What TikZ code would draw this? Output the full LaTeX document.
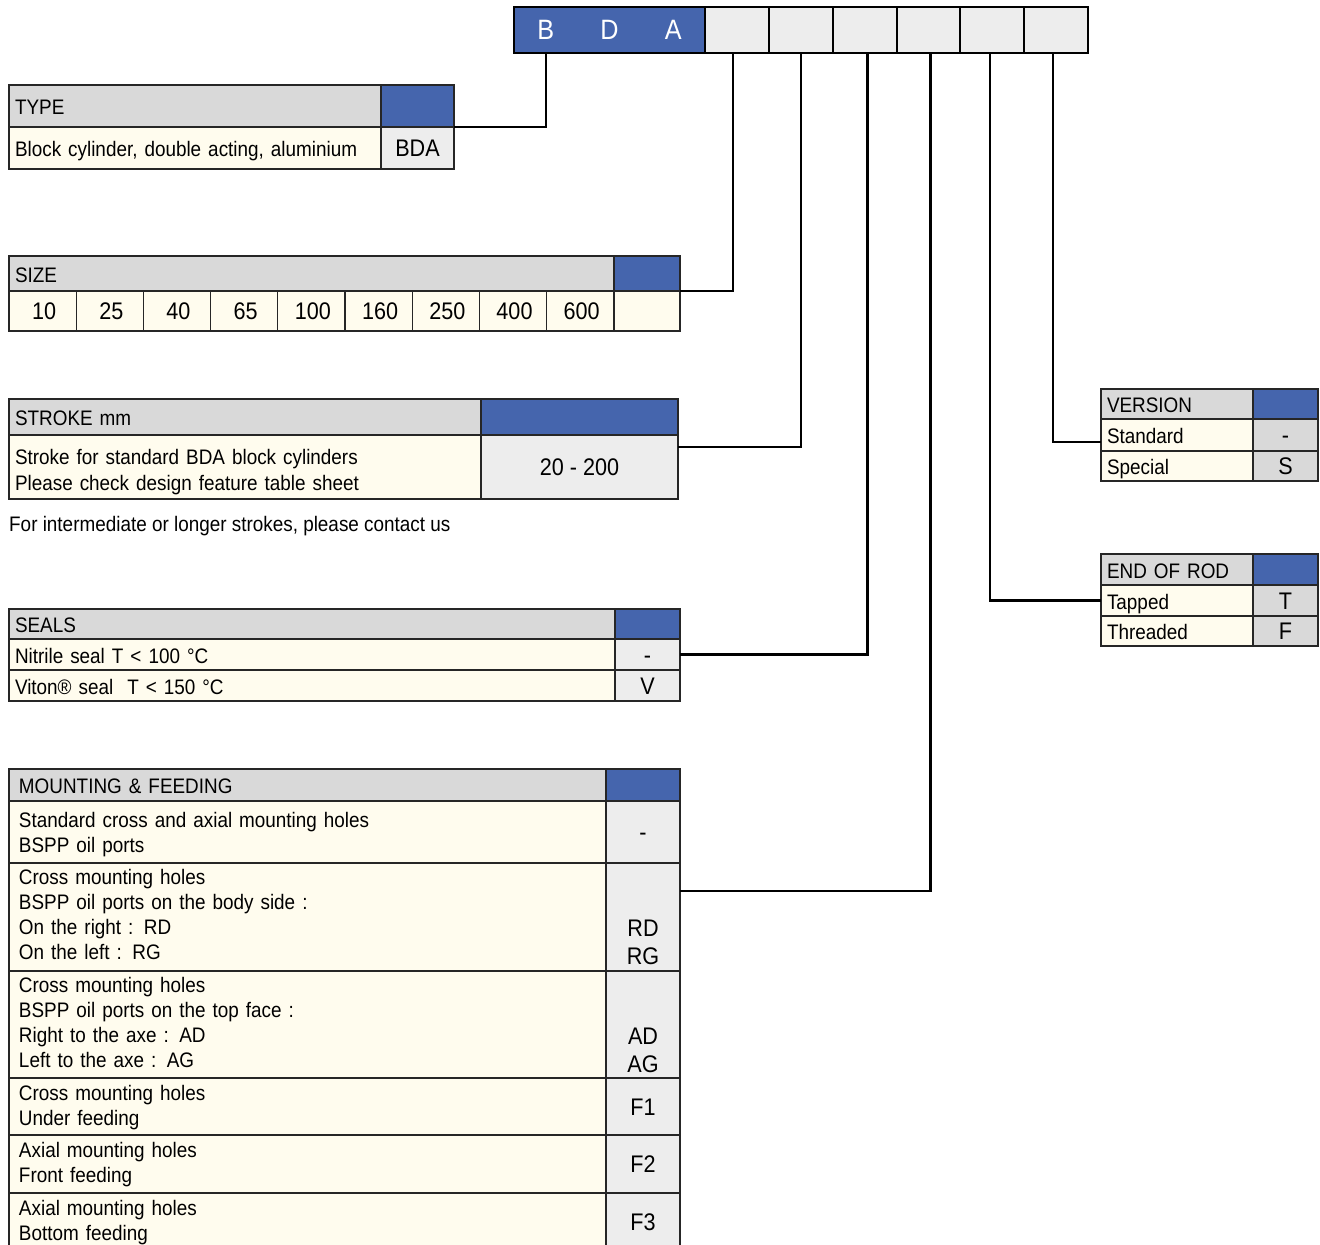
\documentclass[tikz,border=0pt]{standalone}
\usepackage{fontspec}
\setmainfont{Liberation Sans}[FakeStretch=0.9]
\usepackage{tikz}
\usetikzlibrary{positioning}

\definecolor{keyblue}{HTML}{4565AD}
\definecolor{hdrgrey}{HTML}{D9D9D9}
\definecolor{cream}{HTML}{FFFCEE}
\definecolor{codegrey}{HTML}{EDEDED}

\newcommand{\cellsize}{\fontsize{21}{25}\selectfont}
\newcommand{\codesize}{\fontsize{24}{28}\selectfont}
\newcommand{\barsize}{\fontsize{28}{32}\selectfont}

\tikzset{
  cell/.style={draw=black!85, line width=1.2pt, rectangle, inner sep=0pt, outer sep=0pt, anchor=north west, font=\cellsize},
  hdr/.style={cell, fill=hdrgrey, align=left, inner xsep=6pt, oneline},
  desc/.style={cell, fill=cream, align=left, inner xsep=6pt},
  key/.style={cell, fill=keyblue},
  code/.style={cell, fill=codegrey, font=\codesize, align=center},
  oneline/.style={text height=17pt, text depth=0pt},
  twoline/.style={text height=12pt, text depth=25pt},
  fourline/.style={text height=10pt, text depth=75pt},
  codepair/.style={text width=74pt, text height=11pt, text depth=84pt},
  num/.style={cell, fill=cream, font=\codesize, oneline, minimum width=67.2pt, minimum height=40pt},
  barbox/.style={rectangle, inner sep=0pt, outer sep=0pt, minimum height=46pt, anchor=north west, line width=2pt},
  link/.style={line width=2.4pt},
}

\begin{document}
\begin{tikzpicture}[x=1pt,y=-1pt]
\useasboundingbox (0,0) rectangle (1320,1245);
\clip (0,0) rectangle (1320,1245);

% code bar
\node[barbox, fill=keyblue, minimum width=63.67pt, text=white, font=\barsize] (bB) at (514,7) {B};
\node[barbox, fill=keyblue, minimum width=63.67pt, text=white, font=\barsize] (bD) at (577.67,7) {D};
\node[barbox, fill=keyblue, minimum width=63.67pt, text=white, font=\barsize] (bA) at (641.33,7) {A};
\foreach \i in {1,...,6}
  \node[barbox, draw, fill=codegrey, minimum width=63.83pt] (c\i) at ({705+(\i-1)*63.83},7) {};
\draw[line width=2.6pt] (bB.north west) rectangle (c6.south east);

% type
\node[hdr, text width=360pt, minimum height=42pt] (typeHdr) at (9,85) {TYPE};
\node[key, minimum width=73pt, minimum height=42pt] (typeKey) at (381,85) {};
\node[desc, oneline, text width=360pt, minimum height=42pt] (typeDesc) at (9,127) {Block cylinder, double acting, aluminium};
\node[code, oneline, minimum width=73pt, minimum height=42pt] (typeCode) at (381,127) {BDA};

% size
\node[hdr, text width=593pt, minimum height=35pt] (sizeHdr) at (9,256) {SIZE};
\node[key, minimum width=66pt, minimum height=35pt] (sizeKey) at (614,256) {};
\foreach \v [count=\i] in {10,25,40,65,100,160,250,400,600}
  \node[num] (size\i) at ({9+(\i-1)*67.2},291) {\hspace{3pt}\v};
\node[num, minimum width=66pt] (sizeCode) at (614,291) {};

% stroke
\node[hdr, text width=460pt, minimum height=36pt] (strokeHdr) at (9,399) {STROKE mm};
\node[key, minimum width=197pt, minimum height=36pt] (strokeKey) at (481,399) {};
\node[desc, text width=460pt, minimum height=64pt, font=\fontsize{21}{26}\selectfont, text height=21pt, text depth=26pt] (strokeDesc) at (9,435) {Stroke for standard BDA block cylinders\\Please check design feature table sheet};
\node[code, oneline, minimum width=197pt, minimum height=64pt] (strokeCode) at (481,435) {20 - 200};
\node[anchor=west, inner sep=0pt, font=\cellsize] (strokeNote) at (9,526) {For intermediate or longer strokes, please contact us};

% seals
\node[hdr, text width=594pt, minimum height=30pt] (sealsHdr) at (9,609) {SEALS};
\node[key, minimum width=65pt, minimum height=30pt] (sealsKey) at (615,609) {};
\node[desc, oneline, text width=594pt, minimum height=31pt] (sealsDesc1) at (9,639) {Nitrile seal T < 100 °C};
\node[code, oneline, minimum width=65pt, minimum height=31pt] (sealsCode1) at (615,639) {-};
\node[desc, oneline, text width=594pt, minimum height=31pt] (sealsDesc2) at (9,670) {Viton® seal~ T < 150 °C};
\node[code, oneline, minimum width=65pt, minimum height=31pt] (sealsCode2) at (615,670) {V};

% mounting & feeding
\node[hdr, inner xsep=10pt, text width=577pt, minimum height=32pt] (mfHdr) at (9,769) {MOUNTING \& FEEDING};
\node[key, minimum width=74pt, minimum height=32pt] (mfKey) at (606,769) {};
\node[desc, inner xsep=10pt, text width=577pt, minimum height=62pt, text height=15pt, text depth=25pt] (mfDesc1) at (9,801) {Standard cross and axial mounting holes\\BSPP oil ports};
\node[code, oneline, minimum width=74pt, minimum height=62pt] (mfCode1) at (606,801) {-};
\node[desc, fourline, inner xsep=10pt, text width=577pt, minimum height=108pt] (mfDesc2) at (9,863) {Cross mounting holes\\BSPP oil ports on the body side :\\On the right : RD\\On the left : RG};
\node[code, codepair, minimum height=108pt] (mfCode2) at (606,863) {\vphantom{R}\\\vphantom{R}\\RD\\RG};
\node[desc, fourline, inner xsep=10pt, text width=577pt, minimum height=107pt] (mfDesc3) at (9,971) {Cross mounting holes\\BSPP oil ports on the top face :\\Right to the axe : AD\\Left to the axe : AG};
\node[code, codepair, minimum height=107pt] (mfCode3) at (606,971) {\vphantom{A}\\\vphantom{A}\\AD\\AG};
\node[desc, twoline, inner xsep=10pt, text width=577pt, minimum height=57pt] (mfDesc4) at (9,1078) {Cross mounting holes\\Under feeding};
\node[code, oneline, minimum width=74pt, minimum height=57pt] (mfCode4) at (606,1078) {F1};
\node[desc, twoline, inner xsep=10pt, text width=577pt, minimum height=58pt] (mfDesc5) at (9,1135) {Axial mounting holes\\Front feeding};
\node[code, oneline, minimum width=74pt, minimum height=58pt] (mfCode5) at (606,1135) {F2};
\node[desc, twoline, inner xsep=10pt, text width=577pt, minimum height=58pt] (mfDesc6) at (9,1193) {Axial mounting holes\\Bottom feeding};
\node[code, oneline, minimum width=74pt, minimum height=58pt] (mfCode6) at (606,1193) {F3};

% version
\node[hdr, text width=140pt, minimum height=30pt] (verHdr) at (1101,389) {VERSION};
\node[key, minimum width=65pt, minimum height=30pt] (verKey) at (1253,389) {};
\node[desc, oneline, text width=140pt, minimum height=32pt] (verDesc1) at (1101,419) {Standard};
\node[code, oneline, fill=hdrgrey, minimum width=65pt, minimum height=32pt] (verCode1) at (1253,419) {-};
\node[desc, oneline, text width=140pt, minimum height=30pt] (verDesc2) at (1101,451) {Special};
\node[code, oneline, fill=hdrgrey, minimum width=65pt, minimum height=30pt] (verCode2) at (1253,451) {S};

% end of rod
\node[hdr, text width=140pt, minimum height=31pt] (rodHdr) at (1101,554) {END OF ROD};
\node[key, minimum width=65pt, minimum height=31pt] (rodKey) at (1253,554) {};
\node[desc, oneline, text width=140pt, minimum height=31pt] (rodDesc1) at (1101,585) {Tapped};
\node[code, oneline, fill=hdrgrey, minimum width=65pt, minimum height=31pt] (rodCode1) at (1253,585) {T};
\node[desc, oneline, text width=140pt, minimum height=30pt] (rodDesc2) at (1101,616) {Threaded};
\node[code, oneline, fill=hdrgrey, minimum width=65pt, minimum height=30pt] (rodCode2) at (1253,616) {F};

% links
\draw[link] (bB.south) |- (typeCode.north east);
\draw[link] ([xshift=-4pt]c1.south) |- (sizeKey.south east);
\draw[link] (c2.south) |- ([yshift=-12pt]strokeCode.north east);
\draw[link] ([xshift=3pt]c3.south) |- (sealsCode1.east);
\draw[link] ([xshift=2pt]c4.south) |- ([yshift=-28pt]mfCode2.north east);
\draw[link] ([xshift=-2pt]c5.south) |- (rodDesc1.west);
\draw[link] ([xshift=-3pt]c6.south) |- ([yshift=-23pt]verDesc1.north west);
\end{tikzpicture}
\end{document}
